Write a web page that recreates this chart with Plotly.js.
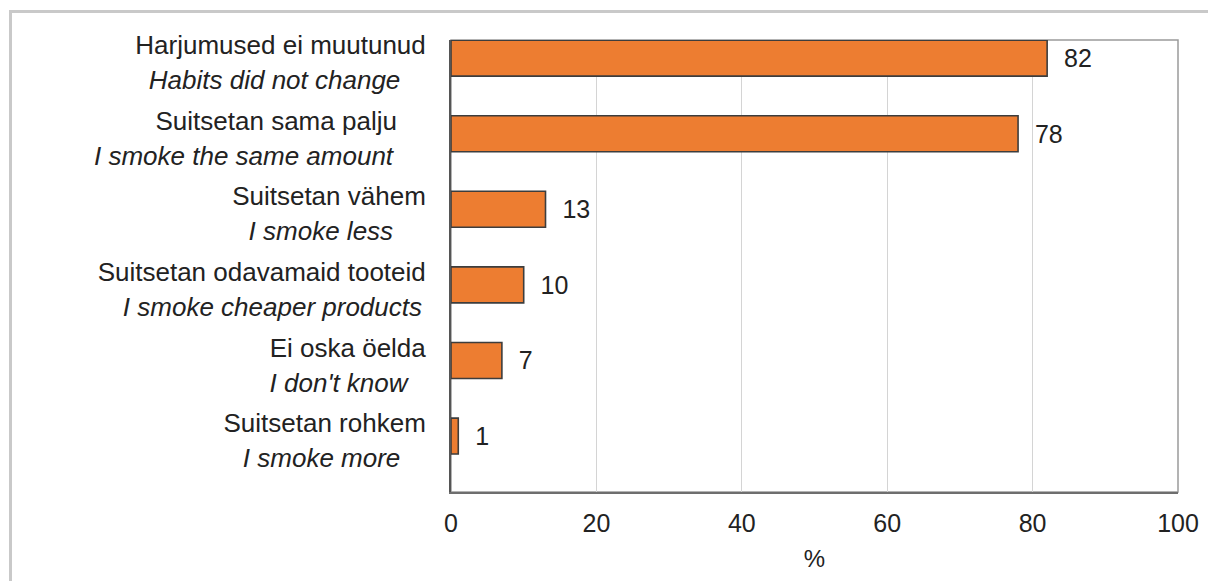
<!DOCTYPE html>
<html>
<head>
<meta charset="utf-8">
<script src="https://cdn.plot.ly/plotly-3.0.1.min.js"></script>
<style>
  html, body { margin: 0; padding: 0; background: #ffffff; }
  #wrap { position: relative; width: 1208px; height: 581px; overflow: hidden; background: #fff; }
  #frame { position: absolute; left: 9px; top: 10px; width: 1300px; height: 700px;
           border-left: 3px solid #c9c9c9; border-top: 3px solid #c9c9c9; }
  #chart { position: absolute; left: 0; top: 0; width: 1208px; height: 581px; }
</style>
</head>
<body>
<div id="wrap">
  <div id="frame"></div>
  <div id="chart"></div>
</div>
<script>
// ---- data ----
const labelsEt = ["Harjumused ei muutunud", "Suitsetan sama palju", "Suitsetan vähem",
                  "Suitsetan odavamaid tooteid", "Ei oska öelda", "Suitsetan rohkem"];
const labelsEn = ["Habits did not change", "I smoke the same amount", "I smoke less",
                  "I smoke cheaper products", "I don't know", "I smoke more"];
const values = [82, 78, 13, 10, 7, 1];
const xTicks = [0, 20, 40, 60, 80, 100];
const xTitle = "%";

// ---- styling helpers (trailing padding to mimic original label alignment) ----
const padEt = [0, 4, 0, 0, 0, 0];
const padEn = [3, 4, 4, 0, 2, 3];
const nb = n => "\u00a0".repeat(n);

const idx = values.map((_, i) => i);
const txtColor = "#222222";
const fontFam = "Liberation Sans, Arial, sans-serif";

const bars = {
  type: "bar",
  orientation: "h",
  x: values,
  y: idx,
  width: 0.476,
  marker: { color: "#ED7D31", line: { color: "#3d3d3d", width: 1.6 } },
  text: values.map(v => nb(2) + v),
  textposition: "outside",
  cliponaxis: false,
  textfont: { family: fontFam, size: 25, color: txtColor },
  hoverinfo: "skip",
  showlegend: false
};

const ghost = {
  type: "scatter",
  mode: "markers",
  x: values,
  y: idx,
  yaxis: "y2",
  marker: { opacity: 0, size: 1 },
  hoverinfo: "skip",
  showlegend: false
};

const yRange = [5.74, -0.24];

const layout = {
  width: 1208,
  height: 581,
  margin: { l: 451, r: 30, t: 40, b: 89 },
  paper_bgcolor: "rgba(0,0,0,0)",
  plot_bgcolor: "rgba(0,0,0,0)",
  font: { family: fontFam, color: txtColor },
  xaxis: {
    range: [0, 100],
    tickmode: "array",
    tickvals: xTicks,
    ticktext: xTicks.map(String),
    ticks: "",
    showgrid: true,
    gridcolor: "#d4d4d4",
    gridwidth: 1.3,
    zeroline: false,
    showline: true,
    linecolor: "#6e6e6e",
    linewidth: 2,
    tickfont: { family: fontFam, size: 25, color: txtColor },
    ticklabelstandoff: 8,
    title: { text: xTitle, font: { family: fontFam, size: 24, color: txtColor }, standoff: 14 },
    fixedrange: true
  },
  yaxis: {
    range: yRange,
    tickmode: "array",
    tickvals: idx,
    ticktext: labelsEt.map((t, i) => t + nb(padEt[i])),
    ticks: "",
    showgrid: false,
    zeroline: false,
    showline: true,
    linecolor: "#555555",
    linewidth: 2,
    tickfont: { family: fontFam, size: 26, color: txtColor },
    ticklabelstandoff: 18,
    ticklabelshift: 13,
    fixedrange: true
  },
  yaxis2: {
    overlaying: "y",
    side: "left",
    range: yRange,
    tickmode: "array",
    tickvals: idx,
    ticktext: labelsEn.map((t, i) => "<i>" + t + nb(padEn[i]) + "</i>"),
    ticks: "",
    showgrid: false,
    zeroline: false,
    showline: false,
    tickfont: { family: fontFam, size: 26, color: txtColor },
    ticklabelstandoff: 28,
    ticklabelshift: -22,
    fixedrange: true
  },
  shapes: [
    { type: "rect", xref: "paper", yref: "paper", x0: 0, x1: 1, y0: 0, y1: 1,
      line: { color: "#9a9a9a", width: 1.5 }, layer: "below" }
  ],
  bargap: 0.5
};

Plotly.newPlot("chart", [bars, ghost], layout, { displayModeBar: false, staticPlot: true });
</script>
</body>
</html>
